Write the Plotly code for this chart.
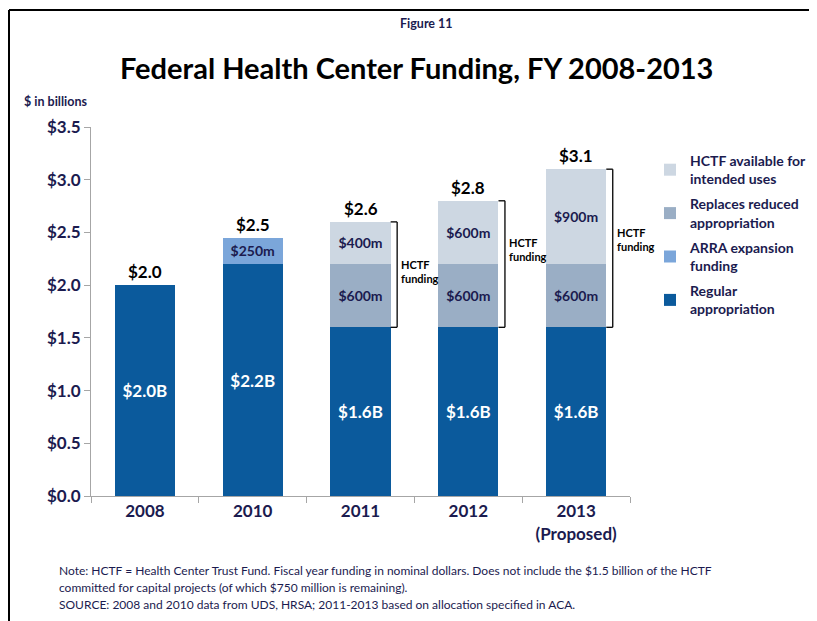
import plotly.graph_objects as go

YEARS = ["2008", "2010", "2011", "2012", "2013<br>(Proposed)"]
REGULAR = [2.0, 2.2, 1.6, 1.6, 1.6]
ARRA = [None, 0.25, None, None, None]
REPLACES = [None, None, 0.6, 0.6, 0.6]
HCTF_AVAIL = [None, None, 0.4, 0.6, 0.9]
Y_TICKS = [0.0, 0.5, 1.0, 1.5, 2.0, 2.5, 3.0, 3.5]

NOTES = [
    "Note: HCTF = Health Center Trust Fund. Fiscal year funding in nominal dollars. Does not include the $1.5 billion of the HCTF",
    "committed for capital projects (of which $750 million is remaining).",
    "SOURCE: 2008 and 2010 data from UDS, HRSA; 2011-2013 based on allocation specified in ACA.",
]

COL_REG = "#0B5A9C"
COL_ARRA = "#7BA6DA"
COL_REPL = "#9AAEC5"
COL_HCTF = "#CDD7E2"
NAVY = "#1B1B4F"
FONT = "Lato, 'Open Sans', sans-serif"

# the page body adds an 8px offset, so work in page pixels minus OFF
OFF = 8
W, H = 817 - OFF, 621 - OFF
PX0, PX1, PY0, PY1 = 91, 630, 127, 496   # plot area in page pixels
L, T = PX0 - OFF, PY0 - OFF
R, B = W - (PX1 - OFF), H - (PY1 - OFF)
PW, PH = W - L - R, H - T - B


def px_x(x):
    return (x - OFF - L) / PW


def px_y(y):
    return (H - B - (y - OFF)) / PH


def fmt_m(vals):
    return ["" if v is None else f"${v * 1000:.0f}m" for v in vals]


def page_text(x, y, text, size, color=NAVY, bold=True, xanchor="center"):
    fig.add_annotation(xref="paper", yref="paper", x=px_x(x), y=px_y(y), text=text,
                       showarrow=False, xanchor=xanchor, yanchor="middle",
                       font=dict(size=size, color=color, family=FONT,
                                 weight="bold" if bold else "normal"))


fig = go.Figure()
fig.add_trace(go.Bar(
    x=YEARS, y=REGULAR, name="Regular<br>appropriation", legendgroup="a", legendrank=4,
    marker=dict(color=COL_REG, line=dict(width=0)),
    text=[f"${v:.1f}B" for v in REGULAR], textposition="inside",
    insidetextanchor="middle",
    textfont=dict(color="white", size=17, family=FONT, weight="bold"),
))
fig.add_trace(go.Bar(
    x=YEARS, y=ARRA, name="ARRA expansion<br>funding", legendgroup="b", legendrank=3,
    marker=dict(color=COL_ARRA, line=dict(width=0)),
    text=fmt_m(ARRA), textposition="inside", insidetextanchor="middle",
    textfont=dict(color=NAVY, size=14, family=FONT, weight="bold"),
))
fig.add_trace(go.Bar(
    x=YEARS, y=REPLACES, name="Replaces reduced<br>appropriation", legendgroup="c", legendrank=2,
    marker=dict(color=COL_REPL, line=dict(width=0)),
    text=fmt_m(REPLACES), textposition="inside", insidetextanchor="middle",
    textfont=dict(color=NAVY, size=14, family=FONT, weight="bold"),
))
fig.add_trace(go.Bar(
    x=YEARS, y=HCTF_AVAIL, name="HCTF available for<br>intended uses", legendgroup="d", legendrank=1,
    marker=dict(color=COL_HCTF, line=dict(width=0)),
    text=fmt_m(HCTF_AVAIL), textposition="inside", insidetextanchor="middle",
    textfont=dict(color=NAVY, size=14, family=FONT, weight="bold"),
))

totals = []
for i in range(len(YEARS)):
    t = sum(v for v in (REGULAR[i], ARRA[i], REPLACES[i], HCTF_AVAIL[i]) if v is not None)
    totals.append(t)
    fig.add_annotation(x=i, y=t, text=f"${t:.1f}", showarrow=False, yanchor="bottom",
                       yshift=1, font=dict(size=17, color="black", family=FONT, weight="bold"))

# HCTF brackets
label_shift = [3, 15, 9]
k = 0
for i in range(len(YEARS)):
    if HCTF_AVAIL[i] is None:
        continue
    lo, hi = REGULAR[i], totals[i]
    xl, xr = i + 0.28, i + 0.34
    for y0, y1, x0, x1 in ((lo, hi, xr, xr), (lo, lo, xl, xr), (hi, hi, xl, xr)):
        fig.add_shape(type="line", xref="x", yref="y", x0=x0, x1=x1, y0=y0, y1=y1,
                      line=dict(color="black", width=1.3))
    fig.add_annotation(x=xr, y=(lo + hi) / 2, text="HCTF<br>funding", showarrow=False,
                       xanchor="left", yanchor="middle", align="left", xshift=2,
                       yshift=label_shift[k],
                       font=dict(size=11, color="black", family=FONT, weight="bold"))
    k += 1

# frame lines
fig.add_shape(type="line", xref="paper", yref="paper", x0=px_x(OFF + 1), x1=px_x(W + OFF), y0=px_y(10), y1=px_y(10),
              line=dict(color="black", width=2))
fig.add_shape(type="line", xref="paper", yref="paper", x0=px_x(OFF + 1), x1=px_x(OFF + 1), y0=px_y(10), y1=px_y(H + OFF),
              line=dict(color="black", width=2))

page_text(426, 24, "Figure 11", 12.5)
page_text(416, 68, "Federal Health Center Funding, FY 2008-2013", 29, color="black")
page_text(22, 102, "$ in billions", 12.5, xanchor="left")
for j, line in enumerate(NOTES):
    page_text(57, 570 + 17 * j, line, 12, bold=False, xanchor="left")

fig.update_layout(
    width=W, height=H,
    margin=dict(l=L, r=R, t=T, b=B, autoexpand=False),
    barmode="stack", bargap=0.44,
    plot_bgcolor="white", paper_bgcolor="white",
    font=dict(family=FONT, color=NAVY),
    showlegend=True,
    legend=dict(
        x=px_x(650), y=px_y(145), xanchor="left", yanchor="top",
        traceorder="grouped", itemwidth=30, bgcolor="rgba(0,0,0,0)",
        font=dict(size=14, color=NAVY, family=FONT, weight="bold"),
        tracegroupgap=4,
    ),
)
fig.update_xaxes(
    range=[-0.5, len(YEARS) - 0.5],
    showline=True, linecolor="#A6A6A6", linewidth=1,
    ticks="outside", tickson="boundaries", ticklen=6, tickcolor="#A6A6A6",
    tickfont=dict(size=17, color=NAVY, family=FONT, weight="bold"),
    showgrid=False,
)
fig.update_yaxes(
    range=[0, 3.5], tickvals=Y_TICKS, ticktext=[f"${v:.1f}" for v in Y_TICKS],
    showline=True, linecolor="#A6A6A6", linewidth=1,
    ticks="outside", ticklen=6, tickcolor="#A6A6A6",
    tickfont=dict(size=17, color=NAVY, family=FONT, weight="bold"),
    showgrid=False, zeroline=False,
)

fig.write_html("out.html")
